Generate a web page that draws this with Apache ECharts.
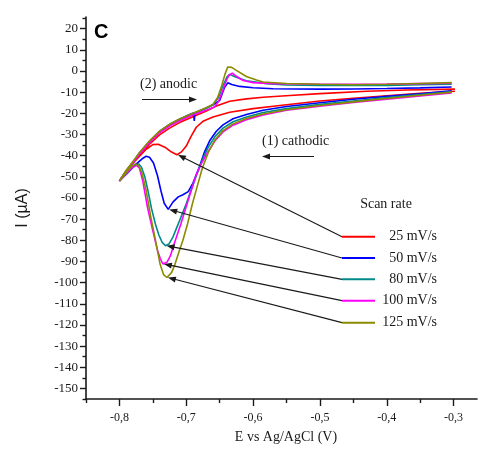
<!DOCTYPE html>
<html>
<head>
<meta charset="utf-8">
<script src="https://cdn.jsdelivr.net/npm/echarts@6/dist/echarts.min.js"></script>
<style>
  html, body { margin: 0; padding: 0; background: #fff; }
  #chart { width: 478px; height: 453px; }
</style>
</head>
<body>
<div id="chart"></div>
<script>
// Cyclic voltammograms at five scan rates: potential (V vs Ag/AgCl), current (µA).
// Each scan starts at -0.30 V, sweeps cathodic to -0.80 V, then back anodic.

const scanRates = ['25 mV/s', '50 mV/s', '80 mV/s', '100 mV/s', '125 mV/s'];
const colors = ['#ff0000', '#0000ff', '#008b8b', '#ff00ff', '#8b8b00'];

const potentialTicks = [-0.8, -0.7, -0.6, -0.5, -0.4, -0.3];
const potentialMinorTicks = [-0.85, -0.75, -0.65, -0.55, -0.45, -0.35];
const currentTicks = [20, 10, 0, -10, -20, -30, -40, -50, -60, -70, -80, -90, -100,
  -110, -120, -130, -140, -150];
const currentMinorTicks = [25, 15, 5, -5, -15, -25, -35, -45, -55, -65, -75, -85, -95,
  -105, -115, -125, -135, -145, -155];

// 25 mV/s
const cathodic25 = [[-0.298,-9.6],[-0.35,-10.6],[-0.40,-11.7],[-0.45,-12.9],[-0.50,-14.2],[-0.56,-16.3],
  [-0.60,-17.8],[-0.635,-19.5],[-0.66,-21.8],[-0.675,-23.8],[-0.685,-26.6],[-0.693,-31.0],[-0.70,-35.5],
  [-0.707,-38.2],[-0.714,-39.6],[-0.722,-38.3],[-0.732,-36.0],[-0.742,-34.6],[-0.750,-34.8],[-0.760,-37.0],
  [-0.772,-41.0],[-0.785,-45.5],[-0.800,-52.0]];
const anodic25 = [[-0.800,-52.0],[-0.79,-47.5],[-0.78,-43.5],[-0.77,-39.6],[-0.755,-34.6],[-0.74,-30.2],
  [-0.725,-27.0],[-0.71,-24.4],[-0.69,-21.6],[-0.67,-18.9],[-0.655,-16.6],[-0.635,-14.3],[-0.61,-13.2],
  [-0.585,-12.4],[-0.545,-11.6],[-0.50,-10.7],[-0.43,-9.6],[-0.37,-9.0],[-0.298,-8.6]];

// 50 mV/s
const cathodic50 = [[-0.303,-9.4],[-0.35,-10.8],[-0.40,-12.0],[-0.45,-13.4],[-0.50,-15.0],[-0.55,-16.8],
  [-0.585,-18.6],[-0.61,-20.6],[-0.63,-22.6],[-0.645,-25.5],[-0.655,-28.5],[-0.665,-33.0],[-0.673,-38.5],
  [-0.68,-45.0],[-0.69,-53.0],[-0.697,-57.0],[-0.705,-58.5],[-0.712,-59.5],[-0.72,-62.0],[-0.727,-65.4],
  [-0.733,-62.5],[-0.738,-56.5],[-0.743,-49.5],[-0.749,-43.5],[-0.755,-40.8],[-0.760,-40.3],[-0.766,-41.5],
  [-0.775,-44.0],[-0.787,-48.0],[-0.800,-52.0]];
const anodic50 = [[-0.800,-52.0],[-0.79,-47.2],[-0.78,-43.2],[-0.77,-38.8],[-0.755,-33.3],[-0.74,-28.6],
  [-0.725,-25.3],[-0.71,-22.8],[-0.695,-20.6],[-0.689,-19.9],[-0.688,-23.6],[-0.687,-19.7],[-0.67,-17.5],
  [-0.66,-16.0],[-0.65,-13.9],[-0.643,-8.0],[-0.638,-5.6],[-0.632,-6.4],[-0.62,-7.3],[-0.60,-7.9],
  [-0.57,-8.4],[-0.50,-8.6],[-0.45,-8.5],[-0.40,-8.3],[-0.35,-8.0],[-0.303,-7.6]];

// 80 mV/s
const cathodic80 = [[-0.303,-9.8],[-0.35,-11.2],[-0.40,-12.6],[-0.45,-14.2],[-0.50,-15.8],[-0.55,-17.8],
  [-0.585,-19.6],[-0.61,-21.8],[-0.63,-24.0],[-0.645,-27.0],[-0.657,-31.0],[-0.667,-36.0],[-0.676,-42.0],
  [-0.685,-49.5],[-0.693,-56.5],[-0.700,-62.8],[-0.710,-70.7],[-0.720,-78.5],[-0.726,-81.8],[-0.731,-82.6],
  [-0.736,-81.0],[-0.741,-77.5],[-0.746,-72.5],[-0.752,-65.0],[-0.757,-57.0],[-0.762,-50.0],[-0.767,-45.5],
  [-0.771,-44.0],[-0.777,-44.6],[-0.788,-48.0],[-0.800,-52.0]];
const anodic80 = [[-0.800,-52.0],[-0.79,-47.4],[-0.78,-43.4],[-0.77,-39.0],[-0.755,-33.5],[-0.74,-28.7],
  [-0.725,-25.4],[-0.71,-22.9],[-0.69,-20.2],[-0.67,-17.6],[-0.66,-16.0],[-0.652,-12.5],[-0.645,-7.0],
  [-0.639,-2.8],[-0.635,-1.6],[-0.628,-2.6],[-0.62,-3.6],[-0.61,-4.6],[-0.58,-6.0],[-0.55,-6.6],
  [-0.50,-6.9],[-0.45,-6.9],[-0.40,-6.8],[-0.35,-6.5],[-0.303,-6.2]];

// 100 mV/s
const cathodic100 = [[-0.303,-10.4],[-0.35,-11.8],[-0.40,-13.3],[-0.45,-14.9],[-0.50,-16.6],[-0.55,-18.6],
  [-0.585,-20.8],[-0.61,-23.0],[-0.63,-25.6],[-0.645,-28.8],[-0.657,-33.0],[-0.668,-38.5],[-0.677,-43.5],
  [-0.685,-49.0],[-0.695,-59.0],[-0.708,-72.2],[-0.718,-81.7],[-0.724,-87.5],[-0.729,-90.4],[-0.735,-91.2],
  [-0.739,-88.5],[-0.743,-84.8],[-0.750,-75.5],[-0.758,-64.4],[-0.765,-52.0],[-0.770,-46.0],[-0.774,-44.6],
  [-0.780,-45.5],[-0.790,-48.5],[-0.800,-52.0]];
const anodic100 = [[-0.800,-52.0],[-0.79,-47.6],[-0.78,-43.6],[-0.77,-39.3],[-0.755,-33.9],[-0.74,-29.2],
  [-0.725,-26.0],[-0.71,-23.5],[-0.69,-20.8],[-0.67,-18.5],[-0.658,-17.0],[-0.652,-14.5],[-0.646,-9.8],
  [-0.64,-4.5],[-0.636,-2.0],[-0.631,-1.0],[-0.625,-2.5],[-0.615,-4.5],[-0.60,-5.5],[-0.57,-6.0],
  [-0.50,-6.3],[-0.45,-6.3],[-0.40,-6.2],[-0.35,-6.0],[-0.303,-5.8]];

// 125 mV/s
const cathodic125 = [[-0.303,-10.0],[-0.35,-11.5],[-0.40,-13.0],[-0.45,-14.6],[-0.50,-16.3],[-0.55,-18.3],
  [-0.585,-20.3],[-0.61,-22.5],[-0.63,-25.0],[-0.645,-28.2],[-0.657,-32.5],[-0.667,-38.5],[-0.676,-46.0],
  [-0.684,-55.0],[-0.691,-63.0],[-0.698,-72.2],[-0.705,-80.0],[-0.711,-85.5],[-0.717,-91.5],[-0.722,-95.3],
  [-0.729,-97.6],[-0.734,-96.2],[-0.739,-91.5],[-0.745,-81.7],[-0.753,-69.1],[-0.760,-56.5],[-0.766,-48.5],
  [-0.771,-44.8],[-0.776,-43.9],[-0.782,-45.0],[-0.791,-48.5],[-0.800,-52.0]];
const anodic125 = [[-0.800,-52.0],[-0.79,-47.0],[-0.78,-42.9],[-0.77,-38.5],[-0.755,-33.0],[-0.74,-28.4],
  [-0.725,-25.2],[-0.71,-22.7],[-0.69,-20.0],[-0.67,-17.4],[-0.66,-15.8],[-0.653,-12.5],[-0.647,-7.0],
  [-0.642,-1.5],[-0.638,1.9],[-0.632,1.7],[-0.625,0.3],[-0.61,-2.6],[-0.595,-4.3],[-0.585,-5.2],
  [-0.55,-5.9],[-0.50,-6.3],[-0.45,-6.5],[-0.40,-6.3],[-0.35,-5.9],[-0.303,-5.5]];

const sweeps = [
  [cathodic25, anodic25],
  [cathodic50, anodic50],
  [cathodic80, anodic80],
  [cathodic100, anodic100],
  [cathodic125, anodic125]
];

const SERIF = '"Liberation Serif", "Times New Roman", serif';
const SANS = '"Liberation Sans", Arial, sans-serif';
const INK = '#1a1a1a';

const chart = echarts.init(document.getElementById('chart'), null, { renderer: 'canvas' });

const axisMin = { x: -0.85, y: -155 };
const axisMax = { x: -0.265, y: 25.5 };

function commaDecimal(v) {
  return v.toFixed(1).replace('.', ',');
}

// First local minimum met along the cathodic sweep = reduction peak
function cathodicPeak(cath) {
  for (let k = 1; k < cath.length - 1; k++) {
    if (cath[k][1] < cath[k - 1][1] && cath[k][1] <= cath[k + 1][1]) return cath[k];
  }
  return cath[cath.length - 1];
}

const series = sweeps.map(([cath, anod], i) => ({
  name: scanRates[i],
  type: 'line',
  xAxisIndex: 0,
  yAxisIndex: 0,
  data: cath.concat(anod.slice(1)),
  showSymbol: false,
  symbol: 'none',
  smooth: false,
  lineStyle: { color: colors[i], width: 1.6 },
  itemStyle: { color: colors[i] },
  z: 2 + i,
  silent: true
}));

chart.setOption({
  animation: false,
  backgroundColor: '#fff',
  grid: { left: 86, right: 1, top: 17, bottom: 54, containLabel: false },
  xAxis: [
    {
      type: 'value', min: axisMin.x, max: axisMax.x, position: 'bottom',
      name: 'E vs Ag/AgCl (V)', nameLocation: 'middle', nameGap: 31,
      nameTextStyle: { fontFamily: SERIF, fontSize: 14, color: INK, padding: [0, 0, 0, 9] },
      axisLine: { show: true, onZero: false, lineStyle: { color: INK, width: 1.6 } },
      axisTick: { show: true, inside: false, length: 7, customValues: potentialTicks,
        lineStyle: { color: INK, width: 1.4 } },
      axisLabel: { show: true, customValues: potentialTicks, formatter: commaDecimal,
        margin: 13, fontFamily: SERIF, fontSize: 12, color: INK },
      splitLine: { show: false }
    },
    {
      type: 'value', min: axisMin.x, max: axisMax.x, position: 'bottom',
      axisLine: { show: false, onZero: false },
      axisTick: { show: true, inside: false, length: 4, customValues: potentialMinorTicks,
        lineStyle: { color: INK, width: 1.4 } },
      axisLabel: { show: false },
      splitLine: { show: false }
    }
  ],
  yAxis: [
    {
      type: 'value', min: axisMin.y, max: axisMax.y, position: 'left',
      name: 'I (\u00b5A)', nameLocation: 'middle', nameGap: 55,
      nameTextStyle: { fontFamily: SANS, fontSize: 16, color: INK },
      axisLine: { show: true, onZero: false, lineStyle: { color: INK, width: 1.6 } },
      axisTick: { show: true, inside: false, length: 6, customValues: currentTicks,
        lineStyle: { color: INK, width: 1.4 } },
      axisLabel: { show: true, customValues: currentTicks, margin: 8,
        fontFamily: SERIF, fontSize: 13, color: INK },
      splitLine: { show: false }
    },
    {
      type: 'value', min: axisMin.y, max: axisMax.y, position: 'left',
      axisLine: { show: false, onZero: false },
      axisTick: { show: true, inside: false, length: 3.5, customValues: currentMinorTicks,
        lineStyle: { color: INK, width: 1.4 } },
      axisLabel: { show: false },
      splitLine: { show: false }
    }
  ],
  legend: { show: false },
  series: series
});

// Arrow built from a shaft and a filled head
function arrow(x1, y1, x2, y2, head, half) {
  head = head || 8; half = half || 3;
  const a = Math.atan2(y2 - y1, x2 - x1);
  const bx = x2 - head * Math.cos(a), by = y2 - head * Math.sin(a);
  const px = -Math.sin(a) * half, py = Math.cos(a) * half;
  return [
    { type: 'line', silent: true, z: 50,
      shape: { x1: x1, y1: y1, x2: bx + Math.cos(a) * 2, y2: by + Math.sin(a) * 2 },
      style: { stroke: INK, lineWidth: 1.2 } },
    { type: 'polygon', silent: true, z: 50,
      shape: { points: [[x2, y2], [bx + px, by + py], [bx - px, by - py]] },
      style: { fill: INK } }
  ];
}

const keyLeft = 342, keyRight = 375, keyTextRight = 437;
const keyRows = [236.7, 258, 279.3, 300.7, 322.7];

const graphics = [];

graphics.push({ type: 'text', silent: true, z: 50,
  style: { text: 'C', x: 94, y: 32, font: 'bold 20px ' + SANS, fill: '#000',
    align: 'left', verticalAlign: 'middle' } });

graphics.push({ type: 'text', silent: true, z: 50,
  style: { text: '(2) anodic', x: 140, y: 84, font: '14px ' + SERIF, fill: INK,
    align: 'left', verticalAlign: 'middle' } });
graphics.push.apply(graphics, arrow(142, 99.5, 197, 99.5, 8, 3));

graphics.push({ type: 'text', silent: true, z: 50,
  style: { text: '(1) cathodic', x: 262, y: 141, font: '14px ' + SERIF, fill: INK,
    align: 'left', verticalAlign: 'middle' } });
graphics.push.apply(graphics, arrow(314, 156.5, 262, 156.5, 8, 3));

graphics.push({ type: 'text', silent: true, z: 50,
  style: { text: 'Scan rate', x: 386, y: 204, font: '14px ' + SERIF, fill: INK,
    align: 'center', verticalAlign: 'middle' } });

sweeps.forEach(([cath], i) => {
  const y = keyRows[i];
  graphics.push({ type: 'line', silent: true, z: 50,
    shape: { x1: keyLeft, y1: y, x2: keyRight, y2: y },
    style: { stroke: colors[i], lineWidth: 2 } });
  graphics.push({ type: 'text', silent: true, z: 50,
    style: { text: scanRates[i], x: keyTextRight, y: y, font: '14px ' + SERIF, fill: INK,
      align: 'right', verticalAlign: 'middle' } });
  const tip = chart.convertToPixel({ seriesIndex: i }, cathodicPeak(cath));
  graphics.push.apply(graphics, arrow(keyLeft, y, tip[0] + 1, tip[1], 8, 3));
});

chart.setOption({ graphic: graphics });
</script>
</body>
</html>
